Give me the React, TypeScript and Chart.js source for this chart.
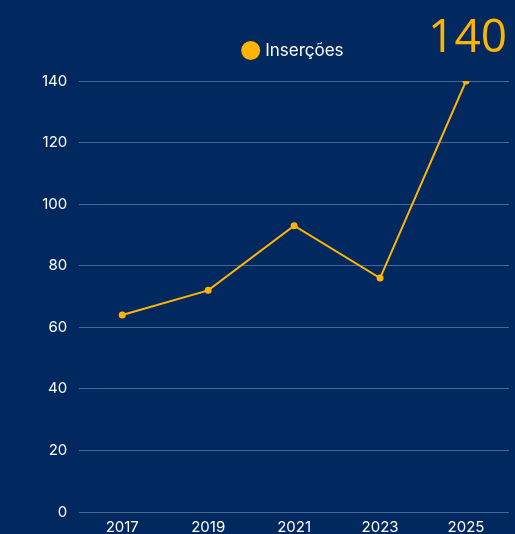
import React, { useEffect, useRef } from "react";
import { Chart, registerables } from "chart.js";

Chart.register(...registerables);

const years = ["2017", "2019", "2021", "2023", "2025"];
const insercoes = [64, 72, 93, 76, 140];
const yTicks = [0, 20, 40, 60, 80, 100, 120, 140];
const seriesLabel = "Inserções";
const highlight = "140";

const BG = "#01295f";
const ORANGE = "#ffb400";
const FONT = "Inter, 'Noto Sans', sans-serif";

const legendTweak = {
  id: "legendTweak",
  afterInit(chart: any) {
    const lg = chart.legend;
    if (!lg) return;
    const fit = lg.fit;
    lg.fit = function () {
      fit.call(this);
      this.height += 12;
    };
  },
  beforeDraw(chart: any) {
    const lg = chart.legend;
    if (lg && chart.chartArea) {
      lg.left = chart.chartArea.left;
      lg.right = chart.chartArea.right;
    }
  },
};

export default function App() {
  const ref = useRef<HTMLCanvasElement | null>(null);

  useEffect(() => {
    document.body.style.margin = "0";
    document.body.style.background = BG;
    document.body.style.overflow = "hidden";
    if (!ref.current) return;
    const chart = new Chart(ref.current, {
      type: "line",
      data: {
        labels: years,
        datasets: [
          {
            label: seriesLabel,
            data: insercoes,
            borderColor: ORANGE,
            backgroundColor: ORANGE,
            pointBackgroundColor: ORANGE,
            pointBorderColor: ORANGE,
            borderWidth: 2,
            pointRadius: 2.5,
            tension: 0,
          },
        ],
      },
      options: {
        animation: false,
        responsive: false,
        maintainAspectRatio: false,
        layout: { padding: { top: 30, right: 5, left: 30, bottom: 0 } },
        plugins: {
          legend: {
            display: true,
            position: "top",
            labels: {
              usePointStyle: true,
              pointStyle: "circle",
              boxWidth: 12,
              boxHeight: 12,
              color: "#ffffff",
              font: { family: FONT, size: 17 },
              padding: 12,
            },
          },
          tooltip: { enabled: false },
        },
        scales: {
          x: {
            offset: true,
            grid: { display: false, drawTicks: false },
            border: { display: false },
            ticks: { color: "#ffffff", font: { family: FONT, size: 15 }, padding: 6 },
          },
          y: {
            min: 0,
            max: 140,
            afterBuildTicks: (axis: any) => {
              axis.ticks = yTicks.map((v) => ({ value: v }));
            },
            grid: { color: "rgba(160,180,220,0.45)", drawTicks: false, lineWidth: 1 },
            border: { display: false },
            ticks: { color: "#ffffff", font: { family: FONT, size: 15 }, padding: 12 },
          },
        },
      },
      plugins: [legendTweak],
    });
    return () => chart.destroy();
  }, []);

  return (
    <div style={{ position: "relative", width: 515, height: 534, overflow: "hidden", background: BG }}>
      <canvas ref={ref} width={515} height={542} style={{ display: "block" }} />
      <div
        style={{
          position: "absolute",
          right: 8,
          top: 8,
          color: ORANGE,
          fontFamily: "'Open Sans', 'Noto Sans', sans-serif",
          fontSize: 46,
          lineHeight: "52px",
        }}
      >
        {highlight}
      </div>
    </div>
  );
}
